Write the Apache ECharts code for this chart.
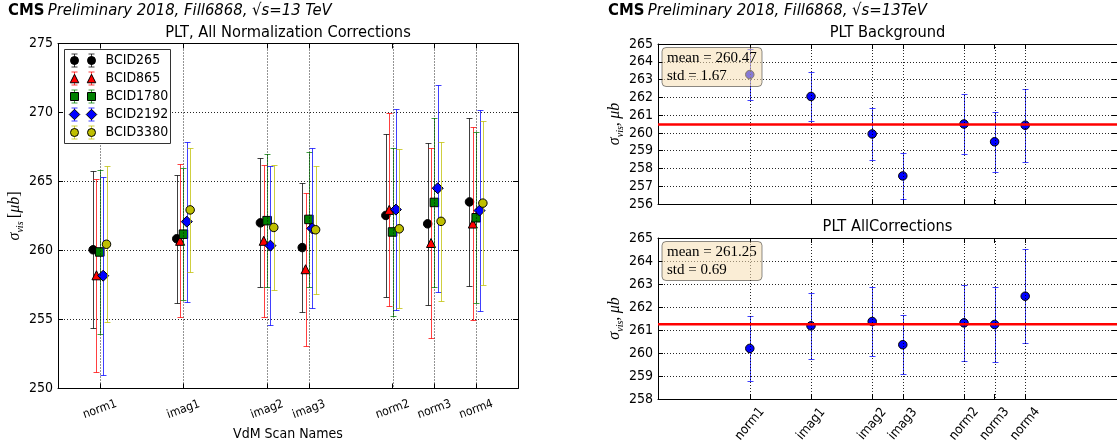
<!DOCTYPE html>
<html>
<head>
<meta charset="utf-8">
<script src="https://cdn.jsdelivr.net/npm/echarts@6/dist/echarts.min.js"></script>
<style>
  html, body { margin: 0; padding: 0; background: #ffffff; }
  #chart { width: 1117px; height: 446px; }
</style>
</head>
<body>
<div id="chart"></div>
<script>
// ---- data ----------------------------------------------------------------
// VdM scans and their positions along the x axis
const scans = ['norm1', 'imag1', 'imag2', 'imag3', 'norm2', 'norm3', 'norm4'];
const scanPos = [1, 3, 5, 6, 8, 9, 10];

// sigma_vis per bunch crossing (all normalization corrections), with errors
const bcidNames = ['BCID265', 'BCID865', 'BCID1780', 'BCID2192', 'BCID3380'];
const bcid265     = [260.05, 260.85, 262.00, 260.21, 262.54, 261.93, 263.52];
const bcid265Err  = [5.70, 4.65, 4.67, 4.68, 5.90, 5.85, 6.10];
const bcid865     = [258.20, 260.70, 260.70, 258.64, 262.94, 260.54, 261.95];
const bcid865Err  = [7.00, 5.55, 5.50, 5.55, 7.00, 6.90, 7.00];
const bcid1780    = [259.89, 261.18, 262.16, 262.25, 261.34, 263.48, 262.37];
const bcid1780Err = [5.95, 4.80, 4.84, 4.90, 6.06, 6.10, 6.20];
const bcid2192    = [258.17, 262.09, 260.35, 261.60, 262.96, 264.51, 262.89];
const bcid2192Err = [7.17, 5.80, 5.75, 5.80, 7.28, 7.50, 7.30];
const bcid3380    = [260.45, 262.94, 261.67, 261.50, 261.57, 262.11, 263.43];
const bcid3380Err = [5.67, 4.50, 4.55, 4.65, 5.75, 5.77, 5.94];

// PLT background correction only
const bkgValues = [263.28, 262.05, 259.94, 257.58, 260.50, 259.50, 260.43];
const bkgErrors = [1.44, 1.37, 1.44, 1.28, 1.68, 1.70, 2.06];
const bkgMean = 260.47;
const bkgStd = 1.67;

// PLT with all corrections
const allValues = [260.20, 261.18, 261.37, 260.36, 261.31, 261.24, 262.47];
const allErrors = [1.41, 1.45, 1.48, 1.28, 1.66, 1.65, 2.05];
const allMean = 261.25;
const allStd = 0.69;

// y-axis tick ranges [min, max, step]
const leftYRange = [250, 275, 5];
const bkgYRange = [256, 265, 1];
const allYRange = [258, 265, 1];

// ---- styling / layout ----------------------------------------------------
const SANS = "'DejaVu Sans Condensed', 'DejaVu Sans', sans-serif";
const SERIF = "'Liberation Serif', 'DejaVu Serif', serif";

const bcidValues = [bcid265, bcid865, bcid1780, bcid2192, bcid3380];
const bcidErrors = [bcid265Err, bcid865Err, bcid1780Err, bcid2192Err, bcid3380Err];
const bcidColors = ['#000000', '#ff0000', '#008000', '#0000ff', '#bfbf00'];
const bcidSymbols = ['circle', 'triangle', 'rect', 'diamond', 'circle'];
const bcidSizes = [8.5, 9, 8.5, 11, 8.5];
const bcidShift = 0.08; // horizontal spread of the bunches around each scan

const G0 = { left: 58, top: 43.5, width: 460, height: 355.5 };
const G1 = { left: 658, top: 44, width: 459, height: 160 };
const G2 = { left: 658, top: 238, width: 459, height: 161 };

const scanLabel = v => scans[scanPos.indexOf(Math.round(v))] || '';

function xAxisPair(gridIndex, min, max, labelOpt) {
  const common = {
    type: 'value', gridIndex, min, max,
    axisLine: { show: true, onZero: false, lineStyle: { color: '#000', width: 1 } },
    axisTick: { show: true, inside: true, length: 5, customValues: scanPos, lineStyle: { color: '#000' } },
    splitLine: { show: false }
  };
  const bottom = Object.assign({}, common, {
    position: 'bottom',
    axisLabel: labelOpt ? Object.assign({ customValues: scanPos, formatter: scanLabel, color: '#000',
      fontFamily: SANS, fontSize: 12, align: 'center', verticalAlign: 'middle' }, labelOpt) : { show: false }
  });
  const top = Object.assign({}, common, { position: 'top', axisLabel: { show: false } });
  return [bottom, top];
}

function yAxisPair(gridIndex, range, nameRich, nameText, nameGap) {
  const common = {
    type: 'value', gridIndex, min: range[0], max: range[1], interval: range[2],
    axisLine: { show: true, onZero: false, lineStyle: { color: '#000', width: 1 } },
    axisTick: { show: true, inside: true, length: 5, lineStyle: { color: '#000' } }
  };
  const left = Object.assign({}, common, {
    position: 'left',
    axisLabel: { color: '#000', fontFamily: SANS, fontSize: 14, margin: 5 },
    splitLine: { show: true, lineStyle: { color: '#000', width: 1, type: [1, 2], opacity: 0.85 } },
    name: nameText, nameLocation: 'middle', nameRotate: 90, nameGap,
    nameTextStyle: { rich: nameRich, align: 'center', verticalAlign: 'middle' }
  });
  const right = Object.assign({}, common, { position: 'right', axisLabel: { show: false }, splitLine: { show: false } });
  return [left, right];
}

const mathRich = {
  g: { fontFamily: SERIF, fontStyle: 'italic', fontSize: 16, color: '#000', lineHeight: 20 },
  s: { fontFamily: SERIF, fontStyle: 'italic', fontSize: 10, color: '#000', verticalAlign: 'bottom', lineHeight: 20 },
  n: { fontFamily: SERIF, fontSize: 16, color: '#000', lineHeight: 20 }
};

// error bars: vertical line with caps, drawn through the axis scales
function errorBarRenderer(color, cap, opacity) {
  return function (params, api) {
    const x = api.value(0), y = api.value(1), e = api.value(2);
    const hi = api.coord([x, y + e]);
    const lo = api.coord([x, y - e]);
    const cx = Math.round(hi[0]) + 0.5;
    const yh = Math.round(hi[1]) + 0.5, yl = Math.round(lo[1]) + 0.5;
    const st = { stroke: color, lineWidth: 1, opacity };
    return {
      type: 'group', children: [
        { type: 'line', shape: { x1: cx, y1: yh, x2: cx, y2: yl }, style: st },
        { type: 'line', shape: { x1: cx - cap, y1: yh, x2: cx + cap, y2: yh }, style: st },
        { type: 'line', shape: { x1: cx - cap, y1: yl, x2: cx + cap, y2: yl }, style: st }
      ]
    };
  };
}

// dotted vertical grid lines at each scan position
function scanGridSeries(axisIndex, yMid) {
  return {
    type: 'custom', xAxisIndex: axisIndex, yAxisIndex: axisIndex, silent: true, z: 20,
    encode: { x: 0, y: 1 },
    data: scanPos.map(p => [p, yMid]),
    renderItem: (params, api) => {
      const cs = params.coordSys;
      const x = Math.round(api.coord([api.value(0), api.value(1)])[0]) + 0.5;
      return { type: 'line', shape: { x1: x, y1: cs.y, x2: x, y2: cs.y + cs.height },
        style: { stroke: '#000', lineWidth: 1, lineDash: [1, 2], opacity: 0.85 } };
    }
  };
}

// horizontal mean line across the whole panel
function meanLineSeries(axisIndex, mean, xMid) {
  return {
    type: 'custom', xAxisIndex: axisIndex, yAxisIndex: axisIndex, silent: true, z: 25,
    encode: { x: 0, y: 1 },
    data: [[xMid, mean]],
    renderItem: (params, api) => {
      const cs = params.coordSys;
      const y = api.coord([api.value(0), api.value(1)])[1];
      return { type: 'line', shape: { x1: cs.x, y1: y, x2: cs.x + cs.width, y2: y },
        style: { stroke: '#ff0000', lineWidth: 2.5 } };
    }
  };
}

const series = [];

// left panel: five bunch crossings
bcidNames.forEach((name, k) => {
  const dx = (k - 2) * bcidShift;
  series.push({
    type: 'custom', name: name + ' err', xAxisIndex: 0, yAxisIndex: 0, silent: true, z: 3 + 2 * k,
    encode: { x: 0, y: 1 },
    data: scanPos.map((p, i) => [p + dx, bcidValues[k][i], bcidErrors[k][i]]),
    renderItem: errorBarRenderer(bcidColors[k], 3, 0.75)
  });
  series.push({
    type: 'scatter', name, xAxisIndex: 0, yAxisIndex: 0, z: 4 + 2 * k,
    symbol: bcidSymbols[k], symbolSize: bcidSizes[k],
    itemStyle: { color: bcidColors[k], borderColor: '#000', borderWidth: 1, opacity: 1 },
    data: scanPos.map((p, i) => [p + dx, bcidValues[k][i]])
  });
});
series.push(scanGridSeries(0, 262));

// right panels
[[2, bkgValues, bkgErrors, bkgMean], [4, allValues, allErrors, allMean]].forEach(([ax, vals, errs, mean]) => {
  series.push({
    type: 'custom', xAxisIndex: ax, yAxisIndex: ax, silent: true, z: 5,
    encode: { x: 0, y: 1 },
    data: scanPos.map((p, i) => [p, vals[i], errs[i]]),
    renderItem: errorBarRenderer('#0000ff', 3, 0.75)
  });
  series.push({
    type: 'scatter', xAxisIndex: ax, yAxisIndex: ax, z: 6,
    symbol: 'circle', symbolSize: 8.5,
    itemStyle: { color: '#0000ff', borderColor: '#000', borderWidth: 1, opacity: 1 },
    data: scanPos.map((p, i) => [p, vals[i]])
  });
  series.push(scanGridSeries(ax, mean));
  series.push(meanLineSeries(ax, mean, 5));
});

// ---- graphic overlays: headers, titles, legend, stat boxes ----------------
const graphics = [];
function header(x, energy) {
  graphics.push({
    type: 'text', z: 100, x, y: 11,
    style: {
      text: '{b|CMS} {i|Preliminary 2018, Fill6868, √s=' + energy + '}',
      verticalAlign: 'middle', align: 'left',
      rich: {
        b: { fontFamily: SANS, fontWeight: 'bold', fontSize: 16.5, fill: '#000' },
        i: { fontFamily: SANS, fontStyle: 'italic', fontSize: 16.5, fill: '#000' }
      }
    }
  });
}
header(8, '13 TeV');
header(608, '13TeV');

function title(text, cx, cy) {
  graphics.push({ type: 'text', z: 100, x: cx, y: cy,
    style: { text, font: '16.3px ' + SANS, fill: '#000', align: 'center', verticalAlign: 'middle' } });
}
title('PLT, All Normalization Corrections', G0.left + G0.width / 2, 33);
title('PLT Background', G1.left + G1.width / 2, 33);
title('PLT AllCorrections', G2.left + G2.width / 2, 227);

// legend box with two error-bar markers per entry
const LEG = { x: 64.5, y: 49.5, w: 106, h: 94, row0: 11, rowGap: 18, m1: 9, m2: 26, tx: 41 };
graphics.push({ type: 'rect', z: 100, shape: { x: LEG.x, y: LEG.y, width: LEG.w, height: LEG.h },
  style: { fill: '#fff', stroke: '#333', lineWidth: 1 } });
function markerShape(kind, cx, cy, size, color) {
  const h = size / 2;
  const style = { fill: color, stroke: '#000', lineWidth: 1 };
  if (kind === 'circle') return { type: 'circle', z: 102, shape: { cx, cy, r: h }, style };
  if (kind === 'rect') return { type: 'rect', z: 102, shape: { x: cx - h, y: cy - h, width: size, height: size }, style };
  if (kind === 'triangle') return { type: 'polygon', z: 102, shape: { points: [[cx, cy - h], [cx + h, cy + h], [cx - h, cy + h]] }, style };
  return { type: 'polygon', z: 102, shape: { points: [[cx, cy - h], [cx + h, cy], [cx, cy + h], [cx - h, cy]] }, style };
}
bcidNames.forEach((name, k) => {
  const cy = LEG.y + LEG.row0 + k * LEG.rowGap;
  [LEG.m1, LEG.m2].forEach(mx => {
    const cx = Math.round(LEG.x + mx) + 0.5;
    const st = { stroke: bcidColors[k], lineWidth: 1, opacity: 0.75 };
    graphics.push({ type: 'line', z: 101, shape: { x1: cx, y1: cy - 6.5, x2: cx, y2: cy + 6.5 }, style: st });
    graphics.push({ type: 'line', z: 101, shape: { x1: cx - 3, y1: cy - 6.5, x2: cx + 3, y2: cy - 6.5 }, style: st });
    graphics.push({ type: 'line', z: 101, shape: { x1: cx - 3, y1: cy + 6.5, x2: cx + 3, y2: cy + 6.5 }, style: st });
    graphics.push(markerShape(bcidSymbols[k], cx, cy, bcidSizes[k] - 0.5, bcidColors[k]));
  });
  graphics.push({ type: 'text', z: 102, x: LEG.x + LEG.tx, y: cy,
    style: { text: name, font: '14px ' + SANS, fill: '#000', align: 'left', verticalAlign: 'middle' } });
});

// statistics boxes in the right panels
function statBox(grid, mean, std) {
  const x = grid.left + 4, y = grid.top + 3.5;
  graphics.push({ type: 'rect', z: 110, shape: { x, y, width: 100, height: 39, r: 4 },
    style: { fill: 'rgba(245,222,179,0.55)', stroke: 'rgba(0,0,0,0.45)', lineWidth: 1 } });
  graphics.push({ type: 'text', z: 111, x: x + 5, y: y + 11,
    style: { text: 'mean = ' + mean.toFixed(2), font: '15px ' + SERIF, fill: '#000', align: 'left', verticalAlign: 'middle' } });
  graphics.push({ type: 'text', z: 111, x: x + 5, y: y + 29,
    style: { text: 'std = ' + std.toFixed(2), font: '15px ' + SERIF, fill: '#000', align: 'left', verticalAlign: 'middle' } });
}
statBox(G1, bkgMean, bkgStd);
statBox(G2, allMean, allStd);

// ---- chart -----------------------------------------------------------------
const leftX = xAxisPair(0, 0, 11, { rotate: 20, margin: 21 });
leftX[0].name = 'VdM Scan Names';
leftX[0].nameLocation = 'middle';
leftX[0].nameGap = 35;
leftX[0].nameTextStyle = { fontFamily: SANS, fontSize: 14, color: '#000', verticalAlign: 'middle' };

const option = {
  animation: false,
  backgroundColor: '#ffffff',
  grid: [
    Object.assign({ containLabel: false }, G0),
    Object.assign({ containLabel: false }, G1),
    Object.assign({ containLabel: false }, G2)
  ],
  xAxis: [
    ...leftX,
    ...xAxisPair(1, -2, 13, null),
    ...xAxisPair(2, -2, 13, { rotate: 50, margin: 25, fontSize: 13 })
  ],
  yAxis: [
    ...yAxisPair(0, leftYRange, mathRich, '{g|σ}{s|vis} {n|[}{g|μb}{n|]}', 37),
    ...yAxisPair(1, bkgYRange, mathRich, '{g|σ}{s|vis}{n|,} {g|μb}', 38),
    ...yAxisPair(2, allYRange, mathRich, '{g|σ}{s|vis}{n|,} {g|μb}', 38)
  ],
  series,
  graphic: { elements: graphics }
};

const chart = echarts.init(document.getElementById('chart'), null, { renderer: 'canvas' });
chart.setOption(option);
</script>
</body>
</html>
